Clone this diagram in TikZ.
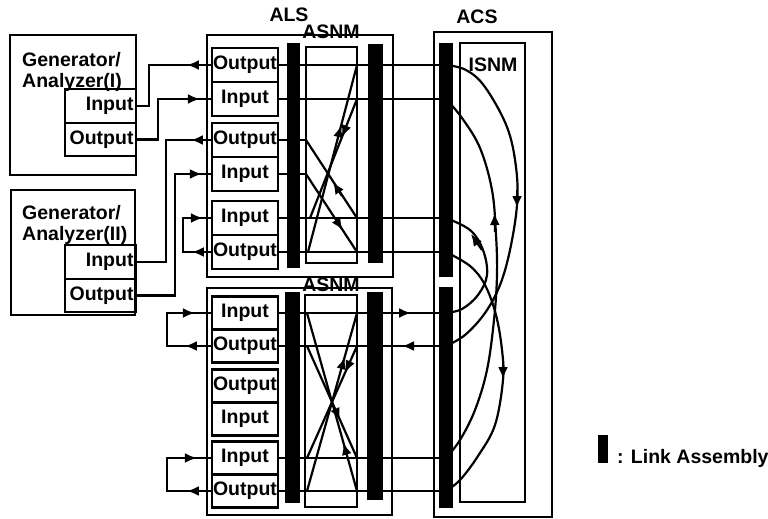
\documentclass[tikz,border=0pt]{standalone}
\usepackage{fontspec}
\setmainfont{Liberation Sans}
\usetikzlibrary{arrows.meta,decorations.markings}
\newcommand\labfont{\fontsize{19.5}{21}\selectfont\bfseries}
\tikzset{
  frame/.style={draw, line width=2.2pt},
  port/.style={draw, line width=2.2pt, minimum width=66pt, minimum height=34pt, inner sep=0pt, font=\labfont},
  gport/.style={draw, line width=2.2pt, text width=66pt, align=right, inner xsep=2.5pt, inner ysep=0pt, font=\labfont},
  link/.style={fill=black, draw=none, inner sep=0pt},
  wire/.style={line width=2.2pt},
  tip/.style={line width=2.2pt, -{Latex[length=12pt,width=10pt]}},
  lbl/.style={font=\labfont, inner sep=0pt},
  amark/.style={postaction={decorate, decoration={markings, mark=at position #1 with {\arrow{Latex[length=12pt,width=10pt]}}}}},
}
\begin{document}
\begin{tikzpicture}[x=1pt,y=-1pt]
\useasboundingbox (0,0) rectangle (768,519);
% ---------- generators ----------
\node[frame, minimum width=126pt, minimum height=140pt, inner sep=0pt] (gen1) at (73,105) {};
\node[lbl, anchor=west] (gt1) at (22,60) {Generator/};
\node[lbl, anchor=west] (gt1b) at (22,82) {Analyzer(I)};
\node[gport, minimum height=34pt] (gi1) at (100.5,106) {Input};
\node[gport, minimum height=33pt] (go1) at (100.5,139.5) {Output};

\node[frame, minimum width=124pt, minimum height=125pt, inner sep=0pt] (gen2) at (73,252.5) {};
\node[lbl, anchor=west] (gt2) at (22,213) {Generator/};
\node[lbl, anchor=west] (gt2b) at (22,235) {Analyzer(II)};
\node[gport, minimum height=34pt] (gi2) at (100.5,262) {Input};
\node[gport, minimum height=33pt] (go2) at (100.5,295.5) {Output};

% ---------- ALS frames ----------
\node[frame, minimum width=186pt, minimum height=242pt, inner sep=0pt] (als1) at (300,156) {};
\node[frame, minimum width=185pt, minimum height=227pt, inner sep=0pt] (als2) at (299.5,401.5) {};
\node[lbl] (alsl) at (289,15) {ALS};
\node[frame, minimum width=51pt, minimum height=216pt, inner sep=0pt] (asnm1) at (331.5,155) {};
\node[frame, minimum width=52pt, minimum height=212pt, inner sep=0pt] (asnm2) at (331,401) {};
\node[lbl] (asnml1) at (331,32) {ASNM};
\node[lbl] (asnml2) at (331,285) {ASNM};

% ports top ALS
\node[port] (o1) at (245,65) {Output};
\node[port] (i1) at (245,99) {Input};
\node[port] (o2) at (245,140) {Output};
\node[port] (i2) at (245,174) {Input};
\node[port] (i3) at (245,218) {Input};
\node[port] (o3) at (245,252) {Output};
% ports bottom ALS
\node[port, minimum height=33pt] (i4) at (245,313) {Input};
\node[port, minimum height=33pt] (o4) at (245,346) {Output};
\node[port, minimum height=33pt] (o5) at (245,386) {Output};
\node[port, minimum height=33pt] (i5) at (245,419) {Input};
\node[port, minimum height=33pt] (i6) at (245,458) {Input};
\node[port, minimum height=33pt] (o6) at (245,491) {Output};

% ---------- ACS frame ----------
\node[frame, minimum width=118pt, minimum height=485pt, inner sep=0pt] (acs) at (493,274.5) {};
\node[lbl] (acsl) at (477,17) {ACS};
\node[frame, minimum width=65pt, minimum height=459pt, inner sep=0pt] (isnm) at (492.5,272.5) {};
\node[lbl] (isnml) at (493,65) {ISNM};

% ---------- coordinates ----------
\coordinate (c1) at (446,65);
\coordinate (c2) at (446,99);
\coordinate (c5) at (446,218);
\coordinate (c6) at (446,252);
\coordinate (d1) at (446,313);
\coordinate (d2) at (446,346);
\coordinate (d5) at (446,458);
\coordinate (d6) at (446,491);
\coordinate (sl2) at (306,140);
\coordinate (sl3) at (306,174);

% ---------- generator wiring ----------
\draw[wire, amark=24pt] (o1.west) -| (149,106) -- (gi1.east);
\draw[wire, amark=-11pt] (go1.east) -| (158,99) -- (i1.west);
\draw[wire, amark=20pt] (o2.west) -| (166,262) -- (gi2.east);
\draw[wire, amark=-9pt] (go2.east) -| (175,174) -- (i2.west);
\draw[wire, amark=19pt, amark=-8pt] (o3.west) -| (183,218) -- (i3.west);
\draw[wire, amark=26pt, amark=-16pt] (o4.west) -| (167,313) -- (i4.west);
\draw[wire, amark=24pt, amark=-14pt] (o6.west) -| (167,458) -- (i6.west);

% ---------- ALS to ACS ----------
\draw[wire] (o1.east) -- (c1);
\draw[wire] (i1.east) -- (c2);
\draw[wire] (i3.east) -- (c5);
\draw[wire] (o3.east) -- (c6);
\draw[wire] (o2.east) -- (sl2);
\draw[wire] (i2.east) -- (sl3);
\draw[wire, amark=132pt] (i4.east) -- (d1);
\draw[wire, amark=44pt] (d2) -- (o4.east);
\draw[wire] (i6.east) -- (d5);
\draw[wire] (o6.east) -- (d6);

% ---------- ASNM crossings ----------
\draw[wire, amark=131pt] (308,252) -- (357,65);
\draw[wire, amark=41pt] (357,99) -- (310,218);
\draw[wire] (sl2) -- (357,218);
\draw[tip] (342,196) -- (333,182);
\draw[wire, amark=67pt] (sl3) -- (357,252);

\draw[wire, amark=139pt] (307,491) -- (357,313);
\draw[wire, amark=29pt] (357,346) -- (307,458);
\draw[wire, amark=50pt] (357,491) -- (307,313);
\draw[wire, amark=81pt] (307,346) -- (357,458);

% ---------- ISNM curves ----------
\draw[wire] plot[smooth, tension=0.6] coordinates
  {(c1) (466,70) (485,87) (507,127) (516,167) (517,205) (510,250) (500,285) (485,313) (465,335) (d2)};
\draw[wire] plot[smooth, tension=0.6] coordinates
  {(c2) (462,118) (480,148) (492,190) (496,235) (497,275) (494,320) (487,370) (475,410) (460,440) (d5)};
\draw[wire] plot[smooth, tension=0.6] coordinates
  {(c5) (470,230) (483,250) (487,275) (478,295) (462,309) (d1)};
\draw[wire] plot[smooth, tension=0.6] coordinates
  {(c6) (470,266) (485,285) (496,315) (502,350) (503,380) (495,425) (478,456) (460,480) (d6)};
\draw[tip] (517,190) -- (517,208);
\draw[tip] (495,232) -- (494.5,213);
\draw[tip] (482,250) -- (471,234);
\draw[tip] (503,360) -- (503,379);

% ---------- link assemblies ----------
\node[link, minimum width=13pt, minimum height=225pt] (la1) at (293.5,155.5) {};
\node[link, minimum width=15pt, minimum height=219pt] (la2) at (375.5,153.5) {};
\node[link, minimum width=15pt, minimum height=211pt] (la3) at (292.5,397.5) {};
\node[link, minimum width=16pt, minimum height=208pt] (la4) at (375,396) {};
\node[link, minimum width=14pt, minimum height=234pt] (la5) at (446,160) {};
\node[link, minimum width=14pt, minimum height=221pt] (la6) at (446,397.5) {};

% ---------- legend ----------
\node[link, minimum width=10pt, minimum height=28pt] (leg) at (602.5,449) {};
\node[lbl, anchor=west] (legt) at (617,458) {: Link Assembly};
\end{tikzpicture}
\end{document}
